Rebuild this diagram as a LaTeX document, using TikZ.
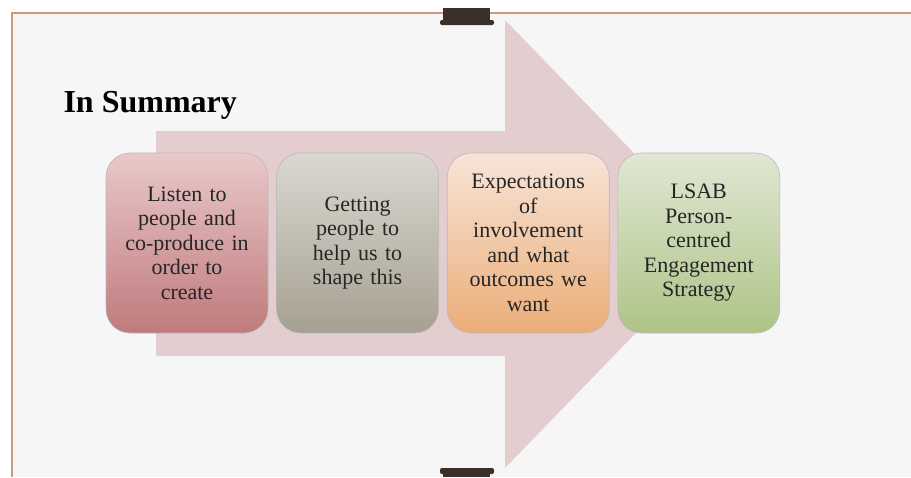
\documentclass[tikz,border=0pt]{standalone}
\usepackage{fontspec}
\setmainfont{Liberation Serif}
\usetikzlibrary{positioning}
\definecolor{frameline}{HTML}{C99A7C}
\definecolor{paper}{HTML}{F6F6F6}
\definecolor{arrowpink}{HTML}{E3CDCF}
\definecolor{tab}{HTML}{3A2F29}
\tikzset{
	stage/.style={rectangle, rounded corners=24pt, draw=gray!55, line width=0.6pt,
		minimum width=162pt, minimum height=180pt, text width=154pt, align=center,
		font=\fontsize{22}{24.5}\selectfont, text=black!85, inner sep=0pt},
}
\begin{document}
\begin{tikzpicture}[x=1pt,y=-1pt]
			\useasboundingbox (0,0) rectangle (911,477);
			\fill[white] (0,0) rectangle (911,477);
			\fill[paper] (12,13) rectangle (911,477);
			\draw[frameline,line width=2pt] (12,477) -- (12,13) -- (911,13);
			% binder tabs
			\fill[tab] (443,8) rectangle (490,22);
			\fill[tab,rounded corners=2pt] (440,20) rectangle (494,25);
			\fill[tab,rounded corners=2pt] (440,468) rectangle (494,474);
			\fill[tab] (443,471) rectangle (490,477);
			\node[anchor=base west,font=\fontsize{32}{38}\selectfont\bfseries] (title) at (60,112) {In Summary};
			% big arrow behind the steps
			\fill[arrowpink] (156,131) -- (505,131) -- (505,20) -- (722,244) -- (505,468) -- (505,356) -- (156,356) -- cycle;
			\node[stage, top color={rgb,255:red,233;green,201;blue,202}, bottom color={rgb,255:red,192;green,122;blue,124}] (listen) at (187,243) {Listen to\\people and\\co-produce in\\order to\\create};
			\node[stage, right=8pt of listen, top color={rgb,255:red,218;green,216;blue,209}, bottom color={rgb,255:red,166;green,160;blue,145}] (getting) {Getting\\people to\\help us to\\shape this};
			\node[stage, right=8pt of getting, top color={rgb,255:red,247;green,228;blue,216}, bottom color={rgb,255:red,235;green,174;blue,120}] (expect) {Expectations\\of\\involvement\\and what\\outcomes we\\want};
			\node[stage, right=8pt of expect, top color={rgb,255:red,224;green,231;blue,212}, bottom color={rgb,255:red,174;green,196;blue,134}] (lsab) {LSAB\\Person-\\centred\\Engagement\\Strategy};
		\end{tikzpicture}
\end{document}
